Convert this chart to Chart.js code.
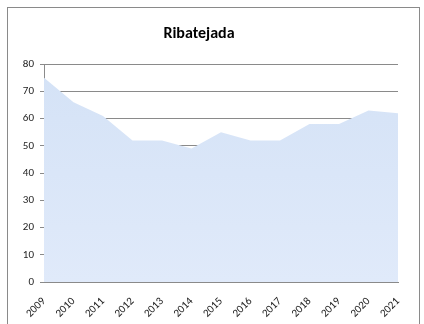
<!DOCTYPE html>
<html>
<head>
<meta charset="utf-8">
<script src="https://cdn.jsdelivr.net/npm/chart.js@4"></script>
<style>
  html, body { margin: 0; padding: 0; background: #fff; }
  #wrap { position: relative; width: 424px; height: 324px; }
</style>
</head>
<body>
<div id="wrap"><canvas id="chart" width="424" height="324"></canvas></div>
<script>
const years = ['2009','2010','2011','2012','2013','2014','2015','2016','2017','2018','2019','2020','2021']
const values = [75, 66, 61, 52, 52, 49, 55, 52, 52, 58, 58, 63, 62]
const yTicks = [0, 10, 20, 30, 40, 50, 60, 70, 80]

const FONT = 'Calibri, Carlito, Lato, "Open Sans", sans-serif'

// outer frame around the whole chart
const framePlugin = {
  id: 'frame',
  beforeDraw(chart) {
    const c = chart.ctx
    c.save()
    c.fillStyle = '#fff'
    c.fillRect(0, 0, chart.width, chart.height)
    c.strokeStyle = '#8a8a8a'
    c.lineWidth = 1
    c.strokeRect(7.5, 7.5, 412, 400)
    c.restore()
  }
}

function areaFill(context) {
  const area = context.chart.chartArea
  if (!area) return '#dae6f8'
  const g = context.chart.ctx.createLinearGradient(0, area.top, 0, area.bottom)
  g.addColorStop(0, '#d4e2f6')
  g.addColorStop(1, '#e0eafa')
  return g
}

new Chart(document.getElementById('chart'), {
  type: 'line',
  data: {
    labels: years,
    datasets: [{
      data: values,
      fill: 'origin',
      backgroundColor: areaFill,
      borderWidth: 0,
      borderColor: 'rgba(0,0,0,0)',
      pointRadius: 0,
      tension: 0
    }]
  },
  options: {
    responsive: false,
    animation: false,
    layout: { padding: { left: 0, right: 26, top: 0, bottom: 0 } },
    plugins: {
      legend: { display: false },
      tooltip: { enabled: false },
      title: {
        display: true,
        text: 'Ribatejada',
        color: '#000',
        font: { family: FONT, size: 16, weight: 'bold' },
        padding: { top: 24, bottom: 21 }
      }
    },
    scales: {
      x: {
        offset: false,
        grid: { display: false },
        border: { display: true, color: '#8a8a8a', width: 1 },
        ticks: {
          color: '#222',
          font: { family: FONT, size: 11 },
          minRotation: 45,
          maxRotation: 45,
          autoSkip: false,
          padding: 5
        },
        afterFit(scale) { scale.height = 42 }
      },
      y: {
        min: 0,
        max: 80,
        afterBuildTicks(scale) { scale.ticks = yTicks.map(v => ({ value: v })) },
        grid: { color: '#8a8a8a', lineWidth: 1, drawTicks: true, tickLength: 4 },
        border: { display: true, color: '#8a8a8a', width: 1 },
        ticks: {
          color: '#222',
          font: { family: FONT, size: 11 },
          padding: 6
        },
        afterFit(scale) { scale.width = 44 }
      }
    }
  },
  plugins: [framePlugin]
})
</script>
</body>
</html>
